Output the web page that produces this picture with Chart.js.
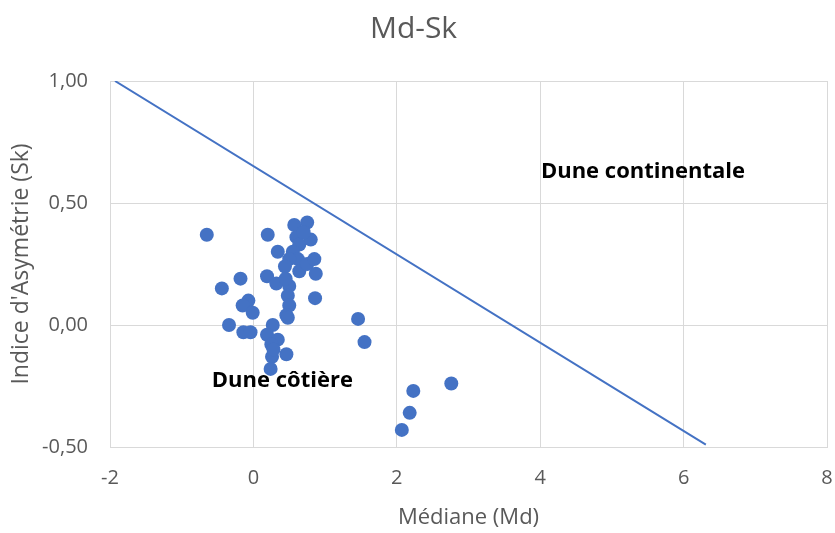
<!DOCTYPE html>
<html>
<head>
<meta charset="utf-8">
<script src="https://cdn.jsdelivr.net/npm/chart.js@4/dist/chart.umd.min.js"></script>
<style>
  html, body { margin: 0; padding: 0; background: #fff; }
  #wrap { width: 835px; height: 533px; }
</style>
</head>
<body>
<div id="wrap"><canvas id="mdSk" width="835" height="533"></canvas></div>
<script>
// Médiane (Md) et indice d'asymétrie (Sk) des échantillons
const medianes = [
  -0.65, -0.44, -0.18, -0.07, -0.15, -0.01, -0.34, -0.14, -0.04,
  0.20, 0.19, 0.32, 0.34, 0.57, 0.75, 0.60, 0.64, 0.80, 0.70, 0.55,
  0.62, 0.50, 0.44, 0.64, 0.75, 0.85, 0.87, 0.50, 0.45, 0.48, 0.50,
  0.46, 0.48, 0.86, 0.27, 0.19, 0.34, 0.25, 0.46, 0.26, 0.24, 0.28,
  1.46, 1.55, 2.23, 2.76, 2.18, 2.07
];
const asymetries = [
  0.37, 0.15, 0.19, 0.10, 0.08, 0.05, 0.00, -0.03, -0.03,
  0.37, 0.20, 0.17, 0.30, 0.41, 0.42, 0.36, 0.33, 0.35, 0.38, 0.30,
  0.27, 0.27, 0.24, 0.22, 0.25, 0.27, 0.21, 0.16, 0.19, 0.12, 0.08,
  0.04, 0.03, 0.11, 0.00, -0.04, -0.06, -0.08, -0.12, -0.13, -0.18, -0.10,
  0.025, -0.07, -0.27, -0.24, -0.36, -0.43
];

// droite de séparation (extrémités)
const limiteMd = [-1.93, 6.31];
const limiteSk = [1.00, -0.49];

// étiquettes de zones
const zoneTextes = ['Dune continentale', 'Dune côtière'];
const zoneMd = [4.01, -0.58];
const zoneSk = [0.63, -0.23];

const xTicks = [-2, 0, 2, 4, 6, 8];
const yTicks = [-0.5, 0, 0.5, 1];

const bleu = '#4472C4';
const gris = '#595959';

const points = medianes.map((m, i) => ({ x: m, y: asymetries[i] }));
const limite = limiteMd.map((m, i) => ({ x: m, y: limiteSk[i] }));

// dessine les étiquettes des zones avec les échelles du graphique
const zonesPlugin = {
  id: 'zones',
  afterDatasetsDraw(chart) {
    const ctx = chart.ctx;
    const sx = chart.scales.x, sy = chart.scales.y;
    ctx.save();
    ctx.font = 'bold 22px "Open Sans"';
    ctx.fillStyle = '#000';
    ctx.textAlign = 'left';
    ctx.textBaseline = 'middle';
    zoneTextes.forEach((t, i) => {
      ctx.fillText(t, sx.getPixelForValue(zoneMd[i]), sy.getPixelForValue(zoneSk[i]));
    });
    ctx.restore();
  }
};

new Chart(document.getElementById('mdSk'), {
  type: 'scatter',
  data: {
    datasets: [
      {
        data: limite,
        showLine: true,
        borderColor: bleu,
        borderWidth: 2,
        pointRadius: 0,
        fill: false,
        order: 1
      },
      {
        data: points,
        backgroundColor: bleu,
        borderColor: bleu,
        pointRadius: 7,
        pointBorderWidth: 0,
        order: 0
      }
    ]
  },
  options: {
    responsive: false,
    animation: false,
    layout: { padding: { left: 0, right: 8, top: 0, bottom: 0 } },
    plugins: {
      legend: { display: false },
      tooltip: { enabled: false },
      title: {
        display: true,
        text: 'Md-Sk',
        color: gris,
        font: { family: '"Open Sans"', size: 30, weight: 'normal' },
        padding: { top: 11, bottom: 34 }
      }
    },
    scales: {
      x: {
        type: 'linear',
        min: -2,
        max: 8,
        afterBuildTicks: s => { s.ticks = xTicks.map(v => ({ value: v })); },
        afterFit: s => { s.height = 86; s.paddingLeft = 0; s.paddingRight = 0; },
        grid: { color: '#d9d9d9', drawTicks: false },
        border: { color: '#d9d9d9' },
        ticks: {
          color: gris,
          padding: 19,
          font: { family: '"Open Sans"', size: 20 },
          callback: v => String(v)
        },
        title: {
          display: true,
          text: 'Médiane (Md)',
          color: gris,
          font: { family: '"Open Sans"', size: 22 },
          padding: { top: 0, bottom: 2 }
        }
      },
      y: {
        type: 'linear',
        min: -0.5,
        max: 1,
        afterBuildTicks: s => { s.ticks = yTicks.map(v => ({ value: v })); },
        afterFit: s => { s.width = 110; s.paddingTop = 0; s.paddingBottom = 0; },
        grid: { color: '#d9d9d9', drawTicks: false },
        border: { color: '#d9d9d9' },
        ticks: {
          color: gris,
          padding: 22,
          font: { family: '"Open Sans"', size: 20 },
          callback: v => v.toFixed(2).replace('.', ',')
        },
        title: {
          display: true,
          text: "Indice d'Asymétrie (Sk)",
          color: gris,
          font: { family: '"Open Sans"', size: 23 },
          padding: { top: 8, bottom: 0 }
        }
      }
    }
  },
  plugins: [zonesPlugin]
});
</script>
</body>
</html>
